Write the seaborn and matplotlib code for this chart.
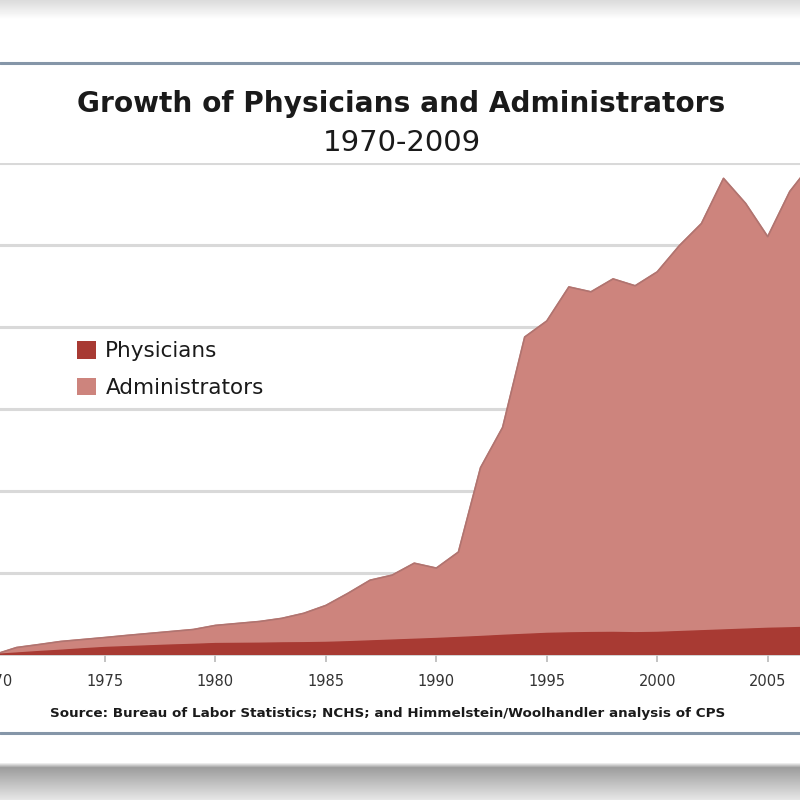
import numpy as np
import pandas as pd
import matplotlib
matplotlib.use("Agg")
import matplotlib.pyplot as plt
import seaborn as sns
from matplotlib.patches import Patch

# growth since 1970 (%)
years = list(range(1970, 2010))
administrators = [0, 43, 61, 80, 92, 104, 117, 129, 141, 153,
                  178, 190, 202, 221, 252, 300, 374, 454, 485, 558,
                  528, 626, 1141, 1387, 1939, 2037, 2245, 2215, 2294, 2252,
                  2337, 2497, 2632, 2908, 2755, 2552, 2828, 3000, 3100, 3200]
physicians = [0, 9, 18, 26, 35, 43, 48, 53, 58, 62,
              67, 68, 69, 71, 72, 74, 78, 83, 88, 93,
              98, 104, 110, 117, 123, 129, 132, 134, 135, 133,
              135, 140, 145, 150, 155, 160, 163, 167, 171, 175]
tick_years = [1970, 1975, 1980, 1985, 1990, 1995, 2000, 2005]

df = pd.DataFrame({"Year": years, "Administrators": administrators,
                   "Physicians": physicians})

sns.set_theme(style="white")
plt.rcParams["font.family"] = ["DejaVu Sans"]

fig = plt.figure(figsize=(8, 8), dpi=100)

# background: frame lines and drop shadow
bg = fig.add_axes([0, 0, 1, 1], zorder=-1)
shade = np.ones(800)
shade[:20] = np.linspace(0.86, 1.0, 20)
shade[762:768] = np.linspace(1.0, 0.62, 6)
shade[768:] = np.linspace(0.62, 0.9, 32)
bg.imshow(np.tile(shade[:, None], (1, 4)), cmap="gray", vmin=0, vmax=1,
          extent=(0, 1, 0, 1), aspect="auto")
bg.axhline(1 - 63 / 800, color="#8596a8", lw=2.2)
bg.axhline(1 - 733 / 800, color="#8596a8", lw=2.2)
bg.set_xlim(0, 1)
bg.set_ylim(0, 1)
bg.axis("off")

ax = fig.add_axes([-0.0069, 0.1818, 1.077, 0.6141])
ax.patch.set_alpha(0)

adm_color = "#cd847d"
phy_color = "#a83a33"
ax.fill_between(df["Year"], df["Administrators"], color=adm_color, zorder=2)
sns.lineplot(data=df, x="Year", y="Administrators", color="#b07470",
             lw=1.2, ax=ax, zorder=3)
ax.fill_between(df["Year"], df["Physicians"], color=phy_color, zorder=4)

ax.set_xlim(1970, 2009)
ax.set_ylim(0, 3000)
ax.set_yticks(range(0, 3001, 500))
ax.yaxis.grid(True, color="#d9d9d9", lw=2.2, zorder=0)
ax.set_axisbelow(True)
ax.set_yticklabels([])
ax.tick_params(axis="y", length=0)
ax.set_xticks(tick_years)
ax.set_xticklabels([str(y) for y in tick_years], fontsize=10.5,
                   color="#333333")
ax.tick_params(axis="x", direction="out", length=5, color="#bbbbbb",
               bottom=True, pad=9)
ax.set_xlabel("")
ax.set_ylabel("")
for side in ["top", "left", "right"]:
    ax.spines[side].set_visible(False)
ax.spines["bottom"].set_color("#cccccc")

fig.text(0.502, 1 - 104 / 800, "Growth of Physicians and Administrators",
         ha="center", va="center", fontsize=20.2, fontweight="bold",
         color="#1a1a1a")
fig.text(0.502, 1 - 143 / 800, "1970-2009", ha="center", va="center",
         fontsize=21, color="#1a1a1a")
fig.text(0.484, 1 - 713 / 800,
         "Source: Bureau of Labor Statistics; NCHS; and Himmelstein/Woolhandler analysis of CPS",
         ha="center", va="center", fontsize=9.7, fontweight="bold",
         color="#1a1a1a")

handles = [Patch(facecolor=phy_color, edgecolor="none"),
           Patch(facecolor=adm_color, edgecolor="none")]
fig.legend(handles, ["Physicians", "Administrators"], loc="upper left",
           bbox_to_anchor=(58 / 800, 1 - 322 / 800), frameon=False,
           fontsize=15.5, handlelength=0.85, handleheight=0.85,
           handletextpad=0.45, labelspacing=0.75, labelcolor="#1a1a1a")

fig.savefig("out.png", dpi=100)
